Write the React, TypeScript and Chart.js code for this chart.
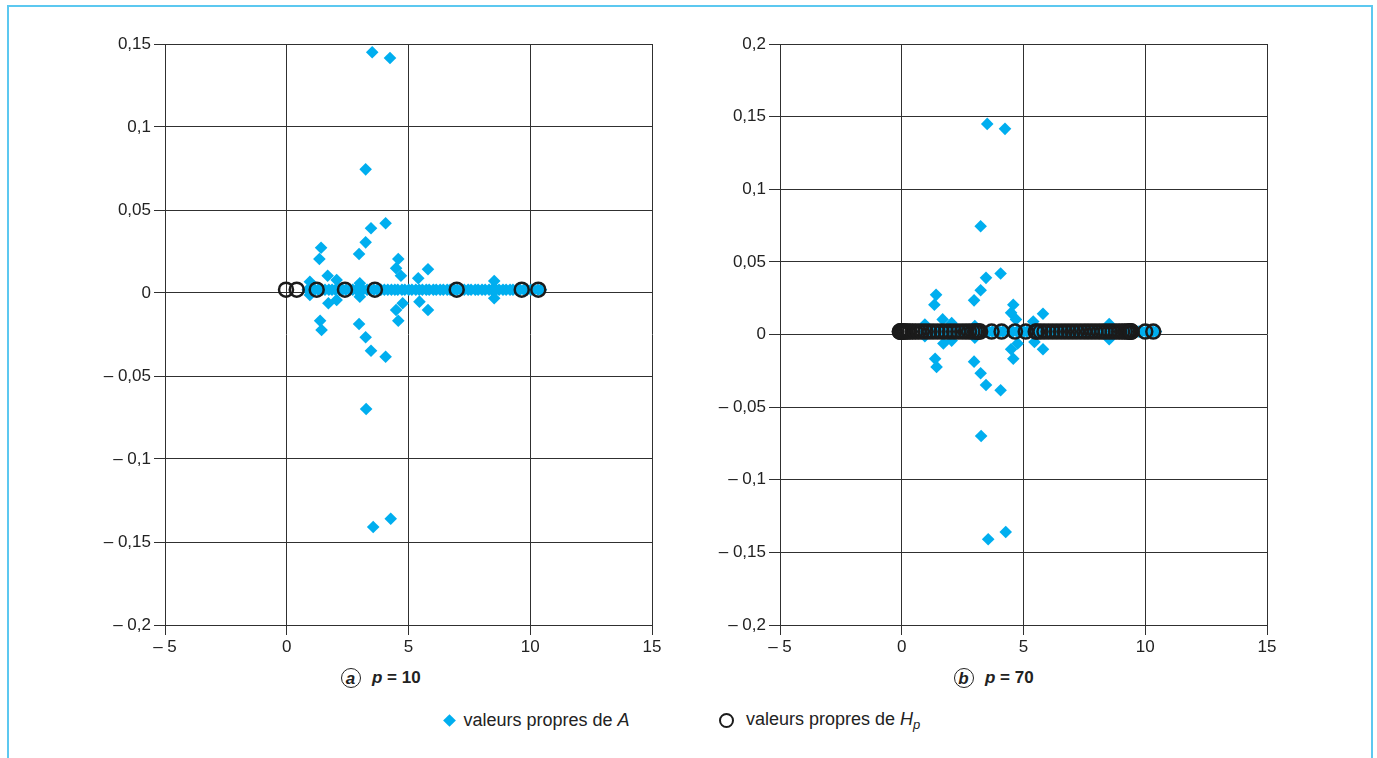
import React, { useEffect, useRef } from "react";
import { Chart, registerables } from "chart.js";
Chart.register(...registerables);

// Eigenvalues of A (real part, imaginary part)
const aRe = [
  3.51, 4.24, 3.24, 3.46, 4.06, 3.24, 2.97, 1.41, 1.34, 4.58, 4.49, 4.69, 5.8, 5.4, 1.68, 2.05, 0.95, 8.52, 3.0,
  3.55, 4.27, 3.26, 3.46, 4.06, 3.24, 2.97, 1.37, 1.43, 4.58, 4.49, 4.76, 5.8, 5.45, 1.71, 2.05, 0.95, 8.52, 3.0,
  0.86, 1.02, 1.15, 1.29, 1.44, 1.57, 1.73, 1.86, 2.0, 2.16, 2.29, 2.43, 2.58, 2.71, 2.86, 3.02, 3.13, 3.3, 3.42,
  3.58, 3.72, 3.87, 4.01, 4.15, 4.3, 4.44, 4.56, 4.73, 4.85, 5.01, 5.14, 5.3, 5.44, 5.57, 5.73, 5.85, 6.02, 6.14,
  6.3, 6.43, 6.59, 6.71, 6.88, 7.0, 7.16, 7.29, 7.45, 7.57, 7.74, 7.86, 8.02, 8.15, 8.31, 8.43, 8.6, 8.72, 8.88,
  9.01, 9.17, 9.29, 9.46, 9.58, 9.74, 9.87, 10.03, 10.15, 10.32, 10.44,
];
const aIm = [
  0.145, 0.1416, 0.0745, 0.039, 0.042, 0.0305, 0.0235, 0.0273, 0.0205, 0.0205, 0.0149, 0.0104, 0.0143, 0.0089, 0.0104, 0.0078, 0.0068, 0.0072, 0.0058,
  -0.141, -0.136, -0.0699, -0.0348, -0.0384, -0.0267, -0.0187, -0.0167, -0.0223, -0.0167, -0.0102, -0.0062, -0.0102, -0.0052, -0.0062, -0.0042, -0.0012, -0.0032, -0.0022,
  0.002, 0.002, 0.002, 0.002, 0.002, 0.002, 0.002, 0.002, 0.002, 0.002, 0.002, 0.002, 0.002, 0.002, 0.002, 0.002, 0.002, 0.002, 0.002,
  0.002, 0.002, 0.002, 0.002, 0.002, 0.002, 0.002, 0.002, 0.002, 0.002, 0.002, 0.002, 0.002, 0.002, 0.002, 0.002, 0.002, 0.002, 0.002,
  0.002, 0.002, 0.002, 0.002, 0.002, 0.002, 0.002, 0.002, 0.002, 0.002, 0.002, 0.002, 0.002, 0.002, 0.002, 0.002, 0.002, 0.002, 0.002,
  0.002, 0.002, 0.002, 0.002, 0.002, 0.002, 0.002, 0.002, 0.002, 0.002, 0.002, 0.002,
];

// Eigenvalues of H_p (all real)
const hp10Re = [-0.03, 0.41, 1.23, 2.39, 3.62, 6.98, 9.65, 10.33];
const hp70Re = [
  -0.08, -0.07, -0.05, -0.03, -0.01, 0.02, 0.06, 0.1, 0.16, 0.24, 0.33, 0.44, 0.56, 0.69, 0.83, 0.98, 1.14, 1.3,
  1.47, 1.64, 1.81, 1.98, 2.15, 2.32, 2.48, 2.63, 2.77, 2.9, 3.01, 3.1, 3.17, 3.22, 3.69, 4.1, 4.65, 5.09, 5.5,
  5.56, 5.7, 5.86, 6.03, 6.2, 6.37, 6.54, 6.7, 6.86, 7.02, 7.18, 7.34, 7.5, 7.65, 7.8, 7.95, 8.1, 8.24, 8.38,
  8.52, 8.66, 8.8, 8.93, 9.05, 9.16, 9.25, 9.32, 9.37, 9.4, 9.42, 9.44, 10.0, 10.33,
];
const hpIm = 0.002;

const xTicks = [-5, 0, 5, 10, 15];
const yTicksA = [-0.2, -0.15, -0.1, -0.05, 0, 0.05, 0.1, 0.15];
const yTicksB = [-0.2, -0.15, -0.1, -0.05, 0, 0.05, 0.1, 0.15, 0.2];

const BLUE = "#00AEEF";
const INK = "#222222";
const GRID = "#303030";
const FONT = '"Liberation Sans", Arial, sans-serif';

function fmt(v: number): string {
  const r = Math.round(v * 100) / 100;
  if (r < 0) return "\u2013 " + fmt(-r);
  return String(r).replace(".", ",");
}

type PanelProps = { left: number; top: number; hp: number[]; yTicks: number[] };

function Panel({ left, top, hp, yTicks }: PanelProps) {
  const ref = useRef<HTMLCanvasElement | null>(null);
  useEffect(() => {
    if (!ref.current) return;
    const tickFont = { family: FONT, size: 17 };
    const chart = new Chart(ref.current, {
      type: "scatter",
      data: {
        datasets: [
          {
            label: "Hp",
            data: hp.map((x) => ({ x, y: hpIm })),
            pointStyle: "circle",
            pointRadius: 7,
            pointBorderWidth: 2.5,
            pointBorderColor: "#1b1b1b",
            pointBackgroundColor: "rgba(0,0,0,0)",
            showLine: false,
            order: 0,
          },
          {
            label: "A",
            data: aRe.map((x, i) => ({ x, y: aIm[i] })),
            pointStyle: "rectRot",
            pointRadius: 6.3,
            pointBorderWidth: 0,
            pointBorderColor: BLUE,
            pointBackgroundColor: BLUE,
            showLine: false,
            order: 1,
          },
        ],
      },
      options: {
        responsive: false,
        maintainAspectRatio: false,
        animation: false,
        devicePixelRatio: 1,
        layout: { padding: { top: 24, right: 15, bottom: 0, left: 0 } },
        plugins: { legend: { display: false }, tooltip: { enabled: false } },
        scales: {
          x: {
            type: "linear",
            min: -5,
            max: 15,
            afterBuildTicks: (s: any) => {
              s.ticks = xTicks.map((v) => ({ value: v }));
            },
            afterFit: (s: any) => {
              s.height = 35;
            },
            grid: { color: GRID, lineWidth: 1, tickLength: 10, drawTicks: true },
            border: { color: GRID, width: 1 },
            ticks: {
              callback: (v: any) => fmt(Number(v)),
              font: tickFont,
              color: INK,
              padding: 2,
              maxRotation: 0,
              autoSkip: false,
            },
          },
          y: {
            type: "linear",
            min: yTicks[0],
            max: yTicks[yTicks.length - 1],
            afterBuildTicks: (s: any) => {
              s.ticks = yTicks.map((v) => ({ value: v }));
            },
            afterFit: (s: any) => {
              s.width = 70;
            },
            grid: { color: GRID, lineWidth: 1, tickLength: 11, drawTicks: true },
            border: { color: GRID, width: 1 },
            ticks: {
              callback: (v: any) => fmt(Number(v)),
              font: tickFont,
              color: INK,
              padding: 3,
              autoSkip: false,
            },
          },
        },
      },
    } as any);
    return () => chart.destroy();
  }, []);
  return (
    <canvas
      ref={ref}
      width={572}
      height={640}
      style={{ position: "absolute", left, top, width: 572, height: 640 }}
    />
  );
}

function Caption({ cx, letter, text }: { cx: number; letter: string; text: string }) {
  return (
    <div
      style={{
        position: "absolute",
        left: cx - 10,
        top: 667,
        height: 22,
        display: "flex",
        alignItems: "center",
        fontFamily: FONT,
        fontWeight: "bold",
        fontSize: 17,
        color: INK,
        whiteSpace: "nowrap",
      }}
    >
      <span
        style={{
          display: "inline-flex",
          boxSizing: "border-box",
          width: 20,
          height: 20,
          border: "1.4px solid " + INK,
          borderRadius: "50%",
          alignItems: "center",
          justifyContent: "center",
          fontStyle: "italic",
          fontSize: 17,
          lineHeight: "17px",
          paddingRight: 1,
        }}
      >
        {letter}
      </span>
      <span style={{ marginLeft: 11 }}>
        <i>p</i> = {text}
      </span>
    </div>
  );
}

export default function App() {
  return (
    <div style={{ position: "absolute", left: 0, top: 0, width: 1377, height: 758, background: "#fff", overflow: "hidden" }}>
      <div
        style={{
          position: "absolute",
          left: 7,
          top: 5,
          width: 1366,
          height: 800,
          boxSizing: "border-box",
          borderTop: "2px solid #5CC8F0",
          borderLeft: "2px solid #5CC8F0",
          borderRight: "2px solid #5CC8F0",
        }}
      />
      <Panel left={95} top={20} hp={hp10Re} yTicks={yTicksA} />
      <Panel left={710} top={20} hp={hp70Re} yTicks={yTicksB} />
      <Caption cx={351} letter="a" text="10" />
      <Caption cx={964} letter="b" text="70" />
      {/* legend */}
      <div
        style={{
          position: "absolute",
          left: 443,
          top: 708,
          height: 24,
          display: "flex",
          alignItems: "center",
          fontFamily: FONT,
          fontSize: 18,
          color: INK,
          whiteSpace: "nowrap",
        }}
      >
        <span
          style={{
            display: "inline-block",
            width: 9,
            height: 9,
            background: BLUE,
            transform: "rotate(45deg)",
            marginLeft: 1.5,
            marginRight: 10,
          }}
        />
        <span>
          valeurs propres de <i>A</i>
        </span>
      </div>
      <div
        style={{
          position: "absolute",
          left: 719,
          top: 708,
          height: 24,
          display: "flex",
          alignItems: "center",
          fontFamily: FONT,
          fontSize: 18,
          color: INK,
          whiteSpace: "nowrap",
        }}
      >
        <span
          style={{
            display: "inline-block",
            boxSizing: "border-box",
            width: 15,
            height: 15,
            border: "2.5px solid #1b1b1b",
            borderRadius: "50%",
            marginRight: 12,
          }}
        />
        <span>
          valeurs propres de <i>H</i>
          <sub style={{ fontStyle: "italic", fontSize: 13, verticalAlign: "-4px" }}>p</sub>
        </span>
      </div>
    </div>
  );
}
